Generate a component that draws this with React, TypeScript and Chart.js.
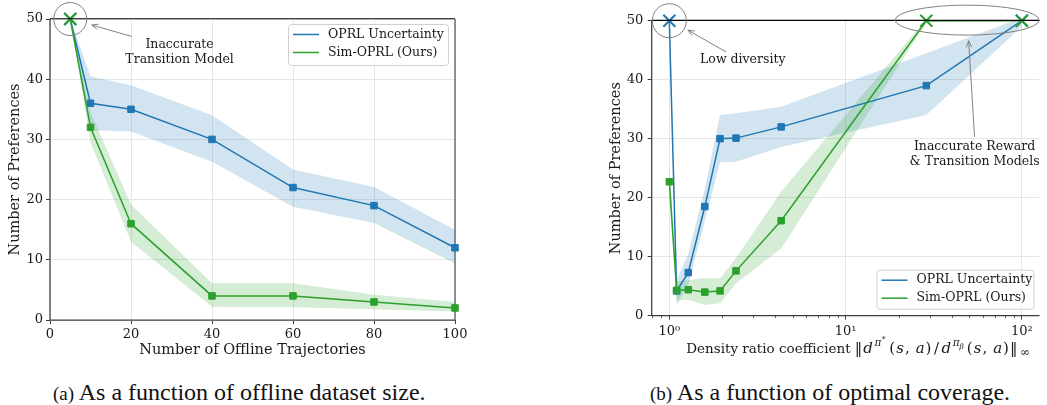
import React, { useEffect, useRef } from 'react';
import { Chart, registerables } from 'chart.js';
Chart.register(...registerables);

// ---------------- data ----------------
const seriesNames = ['OPRL Uncertainty', 'Sim-OPRL (Ours)'];

// (a) offline dataset size
const trajX = [5, 10, 20, 40, 60, 80, 100];
const oprlA = [50, 36, 35, 30, 22, 19, 12];
const oprlAUpper = [50, 40.5, 39, 34, 25, 22.1, 15];
const oprlALower = [50, 31.5, 31.3, 26.3, 18.8, 16.1, 9.4];
const simA = [50, 32, 16, 4, 4, 3, 2];
const simAUpper = [50, 34.5, 19.2, 6.1, 6.1, 4.2, 3];
const simALower = [50, 29.5, 13, 2.2, 2.1, 1.8, 1.4];
const trajTicksStep = 20;

// (b) optimal coverage (log x)
const covX = [1, 1.1, 1.28, 1.59, 1.94, 2.39, 4.31, 28.7, 100];
const oprlB = [50, 4.2, 7.3, 18.5, 30, 30.1, 32, 39, 50];
const oprlBUpper = [50, 6, 10.5, 21.5, 34, 34.3, 35.4, 44.5, 50.5];
const oprlBLower = [50, 1.9, 5.3, 16, 26, 26.1, 28.6, 34, 49];
const simB = [22.7, 4.3, 4.4, 4, 4.2, 7.6, 16.1, 50, 50];
const simBUpper = [25.8, 5.8, 6, 6.4, 6.3, 9.8, 21, 50.3, 50];
const simBLower = [20, 2.5, 2.7, 1.8, 2.1, 5.5, 11.4, 49.7, 50];
const covMajorTicks = [1, 10, 100];
const covMajorLabels = ['10\u2070', '10\u00b9', '10\u00b2'];
const covMinorTicks = [0.8, 0.9, 2, 3, 4, 5, 6, 7, 8, 9, 20, 30, 40, 50, 60, 70, 80, 90];

const budget = 50;

// annotation anchors (data coordinates)
const noteA = { lines: ['Inaccurate', 'Transition Model'], at: [32, 45.65], from: [20.2, 47.1], to: [10.3, 49.0] };
const noteB1 = { lines: ['Low diversity'], at: [2.61, 43.3], from: [2.1, 44.7], to: [1.275, 48.4] };
const noteB2 = { lines: ['Inaccurate Reward', '& Transition Models'], at: [53.9, 28.6], from: [53.9, 30.3], to: [49.9, 46.6], center: [48.9, 50.1] };

// ---------------- style ----------------
const FONT = "'DejaVu Serif', serif";
const BLUE = '#1f77b4';
const GREEN = '#2ca02c';
const BLUE_BAND = 'rgba(31,119,180,0.2)';
const GREEN_BAND = 'rgba(44,160,44,0.2)';
const GRID = '#e6e6e6';
const TEXT = '#1a1a1a';
const NOTE = '#808080';
const NOTE_SIZE = 12.5;

function pts(xs: number[], ys: number[]) {
  return xs.map((x, i) => ({ x, y: ys[i] }));
}

function buildDatasets(xs: number[], b: number[], bu: number[], bl: number[], g: number[], gu: number[], gl: number[]) {
  const main = (data: any, color: string, order: number) => ({
    data,
    borderColor: color,
    backgroundColor: color,
    borderWidth: 1.5,
    fill: false,
    tension: 0,
    clip: false,
    order,
    pointStyle: (c: any) => (c.raw && c.raw.y === budget ? 'crossRot' : 'rect'),
    pointRadius: (c: any) => (c.raw && c.raw.y === budget ? 8.5 : 4.6),
    pointBorderWidth: (c: any) => (c.raw && c.raw.y === budget ? 2 : 1),
    pointBorderColor: color,
    pointBackgroundColor: color,
  });
  const band = (data: any, fill: any, color: string, order: number) => ({
    data,
    borderWidth: 0,
    pointRadius: 0,
    fill,
    backgroundColor: color,
    borderColor: 'rgba(0,0,0,0)',
    tension: 0,
    order,
  });
  return [
    band(pts(xs, bu), false, BLUE_BAND, 4),
    band(pts(xs, bl), 0, BLUE_BAND, 4),
    band(pts(xs, gu), false, GREEN_BAND, 3),
    band(pts(xs, gl), 2, GREEN_BAND, 3),
    main(pts(xs, b), BLUE, 1),
    main(pts(xs, g), GREEN, 0),
  ];
}

function line(ctx: CanvasRenderingContext2D, x1: number, y1: number, x2: number, y2: number) {
  ctx.beginPath();
  ctx.moveTo(x1, y1);
  ctx.lineTo(x2, y2);
  ctx.stroke();
}

function arrow(ctx: CanvasRenderingContext2D, x1: number, y1: number, x2: number, y2: number) {
  ctx.save();
  ctx.strokeStyle = NOTE;
  ctx.lineWidth = 1;
  line(ctx, x1, y1, x2, y2);
  const ang = Math.atan2(y2 - y1, x2 - x1);
  const L = 7, A = 0.4;
  ctx.beginPath();
  ctx.moveTo(x2 - L * Math.cos(ang - A), y2 - L * Math.sin(ang - A));
  ctx.lineTo(x2, y2);
  ctx.lineTo(x2 - L * Math.cos(ang + A), y2 - L * Math.sin(ang + A));
  ctx.stroke();
  ctx.restore();
}

function noteText(ctx: CanvasRenderingContext2D, lines: string[], x: number, y: number) {
  ctx.save();
  ctx.fillStyle = TEXT;
  ctx.font = `${NOTE_SIZE}px ${FONT}`;
  ctx.textAlign = 'center';
  ctx.textBaseline = 'middle';
  lines.forEach((t, i) => ctx.fillText(t, x, y + i * 14.5));
  ctx.restore();
}

function legend(ctx: CanvasRenderingContext2D, x: number, y: number, w: number, h: number) {
  ctx.save();
  ctx.beginPath();
  (ctx as any).roundRect(x + 0.5, y + 0.5, w, h, 3);
  ctx.fillStyle = 'rgba(255,255,255,0.8)';
  ctx.fill();
  ctx.strokeStyle = '#d0d0d0';
  ctx.lineWidth = 1;
  ctx.stroke();
  [BLUE, GREEN].forEach((c, i) => {
    const yy = y + 10.5 + i * 18;
    ctx.strokeStyle = c;
    ctx.lineWidth = 1.5;
    line(ctx, x + 5, yy, x + 31, yy);
    ctx.fillStyle = TEXT;
    ctx.font = `12.5px ${FONT}`;
    ctx.textBaseline = 'middle';
    ctx.textAlign = 'left';
    ctx.fillText(seriesNames[i], x + 40, yy);
  });
  ctx.restore();
}

function spines(chart: any, rightSpine: boolean) {
  const { ctx, chartArea: a } = chart;
  ctx.save();
  ctx.lineWidth = 1.25;
  ctx.strokeStyle = '#3c3c3c';
  line(ctx, a.left, a.top, a.left, a.bottom);
  line(ctx, a.left, a.bottom, a.right, a.bottom);
  if (rightSpine) {
    ctx.strokeStyle = '#555';
    line(ctx, a.right, a.top, a.right, a.bottom);
  }
  ctx.restore();
}

function budgetLine(chart: any) {
  const { ctx, chartArea: a } = chart;
  ctx.save();
  ctx.strokeStyle = '#000';
  ctx.lineWidth = 1.1;
  const yb = chart.scales.y.getPixelForValue(budget) - 0.3;
  line(ctx, a.left, yb, a.right, yb);
  ctx.restore();
}

const leftDecor = {
  id: 'leftDecor',
  beforeDatasetsDraw(chart: any) {
    spines(chart, true);
  },
  afterDatasetsDraw(chart: any) {
    const { ctx, chartArea: a } = chart;
    const xs = chart.scales.x, ys = chart.scales.y;
    budgetLine(chart);
    ctx.save();
    ctx.strokeStyle = NOTE;
    ctx.lineWidth = 1;
    ctx.beginPath();
    ctx.arc(xs.getPixelForValue(trajX[0]), ys.getPixelForValue(budget), 16.5, 0, Math.PI * 2);
    ctx.stroke();
    ctx.restore();
    arrow(ctx, xs.getPixelForValue(noteA.from[0]), ys.getPixelForValue(noteA.from[1]), xs.getPixelForValue(noteA.to[0]), ys.getPixelForValue(noteA.to[1]));
    noteText(ctx, noteA.lines, xs.getPixelForValue(noteA.at[0]), ys.getPixelForValue(noteA.at[1]));
    legend(ctx, a.right - 7 - 160, a.top + 5, 160, 41);
  },
};

const xTitleSegs = [
  { t: 'Density ratio coefficient ', s: 13.5 },
  { t: '\u2016', s: 15, p: 1 },
  { t: 'd', s: 15, i: true, p: 1.5 },
  { t: '\u03c0', s: 10.5, i: true, dy: -7, p: 0.5 },
  { t: '*', s: 8, dy: -11, p: 3.5 },
  { t: '(', s: 15, p: 1 },
  { t: 's', s: 15, i: true, p: 1 },
  { t: ',', s: 15, p: 6 },
  { t: 'a', s: 15, i: true, p: 1 },
  { t: ')', s: 15, p: 2.5 },
  { t: '/', s: 15, p: 2.5 },
  { t: 'd', s: 15, i: true, p: 1.5 },
  { t: '\u03c0', s: 10.5, i: true, dy: -7 },
  { t: '\u03b2', s: 7.5, i: true, dy: -4, p: 3 },
  { t: '(', s: 15, p: 1 },
  { t: 's', s: 15, i: true, p: 1 },
  { t: ',', s: 15, p: 6 },
  { t: 'a', s: 15, i: true, p: 1 },
  { t: ')', s: 15, p: 1 },
  { t: '\u2016', s: 15, p: 2.5 },
  { t: '\u221e', s: 12, dy: 3 },
];

const rightDecor = {
  id: 'rightDecor',
  beforeDatasetsDraw(chart: any) {
    spines(chart, false);
    const { ctx } = chart;
    const xs = chart.scales.x;
    const yb = chart.chartArea.bottom;
    ctx.save();
    ctx.strokeStyle = '#3c3c3c';
    ctx.lineWidth = 0.8;
    covMinorTicks.forEach((v) => {
      const px = Math.round(xs.getPixelForValue(v)) + 0.5;
      line(ctx, px, yb, px, yb + 2.5);
    });
    ctx.restore();
  },
  afterDatasetsDraw(chart: any) {
    const { ctx, chartArea: a } = chart;
    const xs = chart.scales.x, ys = chart.scales.y;
    budgetLine(chart);
    ctx.save();
    ctx.strokeStyle = NOTE;
    ctx.lineWidth = 1;
    ctx.beginPath();
    ctx.arc(xs.getPixelForValue(covX[0]), ys.getPixelForValue(budget), 17, 0, Math.PI * 2);
    ctx.stroke();
    ctx.beginPath();
    ctx.ellipse(xs.getPixelForValue(noteB2.center[0]), ys.getPixelForValue(noteB2.center[1]), 72, 15, 0, 0, Math.PI * 2);
    ctx.stroke();
    ctx.restore();
    arrow(ctx, xs.getPixelForValue(noteB1.from[0]), ys.getPixelForValue(noteB1.from[1]), xs.getPixelForValue(noteB1.to[0]), ys.getPixelForValue(noteB1.to[1]));
    noteText(ctx, noteB1.lines, xs.getPixelForValue(noteB1.at[0]), ys.getPixelForValue(noteB1.at[1]));
    arrow(ctx, xs.getPixelForValue(noteB2.from[0]), ys.getPixelForValue(noteB2.from[1]), xs.getPixelForValue(noteB2.to[0]), ys.getPixelForValue(noteB2.to[1]));
    noteText(ctx, noteB2.lines, xs.getPixelForValue(noteB2.at[0]), ys.getPixelForValue(noteB2.at[1]));
    legend(ctx, a.right - 6 - 157, a.bottom - 7 - 39, 157, 39);

    // x title with math
    ctx.save();
    ctx.fillStyle = TEXT;
    ctx.textBaseline = 'alphabetic';
    ctx.textAlign = 'left';
    const fontOf = (sg: any) => `${sg.i ? 'italic ' : ''}${sg.s}px ${FONT}`;
    let total = 0;
    xTitleSegs.forEach((sg: any) => {
      ctx.font = fontOf(sg);
      total += ctx.measureText(sg.t).width + (sg.p || 0);
    });
    let x = (a.left + a.right) / 2 + 12.5 - total / 2;
    const base = a.bottom + 37.5;
    xTitleSegs.forEach((sg: any) => {
      ctx.font = fontOf(sg);
      ctx.fillText(sg.t, x, base + (sg.dy || 0));
      x += ctx.measureText(sg.t).width + (sg.p || 0);
    });
    ctx.restore();
  },
};

const tickFont = { family: FONT, size: 13 };
const titleFont = { family: FONT, size: 14.5 };

function leftConfig(): any {
  return {
    type: 'line',
    data: { datasets: buildDatasets(trajX, oprlA, oprlAUpper, oprlALower, simA, simAUpper, simALower) },
    options: {
      animation: false,
      responsive: false,
      events: [],
      layout: { padding: { left: 0, top: 19, right: 45, bottom: 0 } },
      plugins: { legend: { display: false }, tooltip: { enabled: false } },
      scales: {
        x: {
          type: 'linear',
          min: 0,
          max: 100,
          ticks: { stepSize: trajTicksStep, font: tickFont, color: TEXT, padding: 3, maxRotation: 0 },
          grid: { color: GRID, lineWidth: 1, tickColor: '#3c3c3c', tickLength: 4 },
          border: { display: false },
          title: { display: true, text: 'Number of Offline Trajectories', font: titleFont, color: TEXT, padding: { top: 0, bottom: 10.8 } },
          afterFit: (s: any) => { s.height = 50; },
        },
        y: {
          min: 0,
          max: 50,
          ticks: { stepSize: 10, font: tickFont, color: TEXT, padding: 3 },
          grid: { color: GRID, lineWidth: 1, tickColor: '#3c3c3c', tickLength: 4 },
          border: { display: false },
          title: { display: true, text: 'Number of Preferences', font: titleFont, color: TEXT, padding: { top: 6.3, bottom: 0 } },
          afterFit: (s: any) => { s.width = 50; },
        },
      },
    },
    plugins: [leftDecor],
  };
}

function rightConfig(): any {
  const isMajor = (v: number) => covMajorTicks.indexOf(v) >= 0;
  return {
    type: 'line',
    data: { datasets: buildDatasets(covX, oprlB, oprlBUpper, oprlBLower, simB, simBUpper, simBLower) },
    options: {
      animation: false,
      responsive: false,
      events: [],
      layout: { padding: { left: 0, top: 20.7, right: 2, bottom: 0 } },
      plugins: { legend: { display: false }, tooltip: { enabled: false } },
      scales: {
        x: {
          type: 'logarithmic',
          min: Math.pow(10, -0.1),
          max: Math.pow(10, 2.1),
          afterBuildTicks: (s: any) => { s.ticks = covMajorTicks.map((v) => ({ value: v })); },
          ticks: {
            autoSkip: false,
            maxRotation: 0,
            font: tickFont,
            color: TEXT,
            padding: 4,
            callback: (v: number) => { const i = covMajorTicks.indexOf(v); return i >= 0 ? covMajorLabels[i] : ''; },
          },
          grid: {
            color: (c: any) => (c.tick && isMajor(c.tick.value) ? GRID : 'rgba(0,0,0,0)'),
            lineWidth: 1,
            tickColor: '#3c3c3c',
            tickLength: 4,
          },
          border: { display: false },
          title: { display: false },
          afterFit: (s: any) => { s.height = 370 - 315.7; },
        },
        y: {
          min: 0,
          max: 50,
          ticks: { stepSize: 10, font: tickFont, color: TEXT, padding: 4.5 },
          grid: { color: GRID, lineWidth: 1, tickColor: '#3c3c3c', tickLength: 4 },
          border: { display: false },
          title: { display: true, text: 'Number of Preferences', font: titleFont, color: TEXT, padding: { top: 47.8, bottom: 0 } },
          afterFit: (s: any) => { s.width = 91.7; },
        },
      },
    },
    plugins: [rightDecor],
  };
}

function ChartBox({ make, left, width, height }: { make: () => any; left: number; width: number; height: number }) {
  const ref = useRef<HTMLCanvasElement>(null);
  useEffect(() => {
    const chart = new Chart(ref.current as HTMLCanvasElement, make());
    return () => chart.destroy();
  }, []);
  return (
    <canvas
      ref={ref}
      width={width}
      height={height}
      style={{ position: 'absolute', left, top: 0, width, height }}
    />
  );
}

const captionStyle: React.CSSProperties = {
  position: 'absolute',
  top: 380,
  fontFamily: "'Liberation Serif', 'Times New Roman', serif",
  fontSize: 24,
  lineHeight: '24px',
  color: '#111',
  whiteSpace: 'nowrap',
};

export default function App() {
  return (
    <div style={{ position: 'fixed', left: 0, top: 0, width: 1047, height: 405, background: '#fff', overflow: 'hidden' }}>
      <ChartBox make={leftConfig} left={0} width={500} height={370} />
      <ChartBox make={rightConfig} left={560} width={490} height={370} />
      <div style={{ ...captionStyle, left: 53 }}>
        <span style={{ fontSize: 19 }}>(a)</span> As a function of offline dataset size.
      </div>
      <div style={{ ...captionStyle, left: 650 }}>
        <span style={{ fontSize: 19 }}>(b)</span> As a function of optimal coverage.
      </div>
    </div>
  );
}
